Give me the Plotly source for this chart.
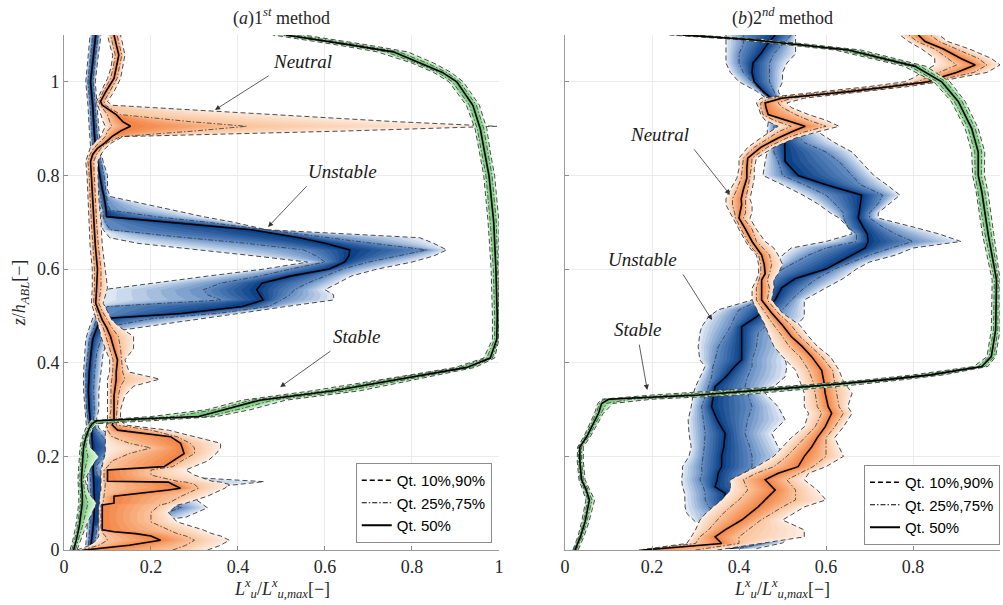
import numpy as np
import plotly.graph_objects as go

# ------------------------------------------------------------------ data
X_TICKS = [0, 0.2, 0.4, 0.6, 0.8, 1.0]
X_TICK_TEXT = ["0", "0.2", "0.4", "0.6", "0.8", "1"]
Y_TICKS = [0, 0.2, 0.4, 0.6, 0.8, 1.0]
Y_TICK_TEXT = ["0", "0.2", "0.4", "0.6", "0.8", "1"]
LEGEND_NAMES = ["Qt. 10%,90%", "Qt. 25%,75%", "Qt. 50%"]
PANEL_TITLES = ["(<i>a</i>)1<sup><i>st</i></sup> method", "(<i>b</i>)2<sup><i>nd</i></sup> method"]

# ---- 1st method : stable
L_ST_Z = [0.0, 0.02, 0.05, 0.08, 0.10, 0.12, 0.15, 0.18, 0.20, 0.22, 0.24, 0.26, 0.27, 0.276, 0.285, 0.30, 0.32, 0.34, 0.37, 0.39, 0.41, 0.45, 0.50, 0.60, 0.70, 0.80, 0.85, 0.90, 0.95, 1.00, 1.02, 1.04, 1.064, 1.08, 1.10]
L_ST_Q10 = [0.014, 0.020, 0.027, 0.032, 0.034, 0.034, 0.032, 0.034, 0.035, 0.037, 0.042, 0.050, 0.057, 0.060, 0.20, 0.33, 0.41, 0.57, 0.77, 0.90, 0.965, 0.985, 0.985, 0.982, 0.975, 0.965, 0.955, 0.945, 0.925, 0.885, 0.85, 0.80, 0.72, 0.62, 0.48]
L_ST_Q25 = [0.018, 0.024, 0.031, 0.036, 0.038, 0.038, 0.036, 0.038, 0.039, 0.041, 0.046, 0.054, 0.061, 0.065, 0.25, 0.35, 0.43, 0.60, 0.78, 0.91, 0.972, 0.99, 0.99, 0.987, 0.98, 0.97, 0.96, 0.95, 0.932, 0.893, 0.86, 0.81, 0.74, 0.64, 0.50]
L_ST_Q50 = [0.022, 0.028, 0.035, 0.040, 0.042, 0.042, 0.040, 0.042, 0.043, 0.045, 0.050, 0.058, 0.065, 0.075, 0.31, 0.37, 0.45, 0.62, 0.80, 0.926, 0.98, 0.995, 0.996, 0.993, 0.988, 0.977, 0.967, 0.957, 0.94, 0.903, 0.87, 0.82, 0.757, 0.65, 0.51]
L_ST_Q75 = [0.026, 0.033, 0.042, 0.050, 0.055, 0.048, 0.044, 0.050, 0.055, 0.050, 0.054, 0.062, 0.070, 0.15, 0.33, 0.40, 0.48, 0.65, 0.82, 0.935, 0.985, 0.998, 1.0, 0.997, 0.994, 0.984, 0.975, 0.965, 0.948, 0.91, 0.88, 0.835, 0.77, 0.67, 0.53]
L_ST_Q90 = [0.030, 0.038, 0.050, 0.065, 0.075, 0.058, 0.048, 0.065, 0.080, 0.060, 0.058, 0.066, 0.078, 0.20, 0.35, 0.43, 0.51, 0.68, 0.84, 0.945, 0.99, 1.0, 1.0, 1.0, 1.0, 0.99, 0.98, 0.972, 0.955, 0.918, 0.89, 0.85, 0.79, 0.69, 0.55]

# ---- 1st method : neutral
L_NE_Z = [0.0, 0.01, 0.021, 0.03, 0.035, 0.039, 0.043, 0.06, 0.08, 0.096, 0.10, 0.115, 0.128, 0.132, 0.14, 0.145, 0.147, 0.16, 0.171, 0.178, 0.19, 0.206, 0.218, 0.228, 0.242, 0.256, 0.267, 0.28, 0.30, 0.33, 0.35, 0.365, 0.38, 0.406, 0.43, 0.456, 0.475, 0.491, 0.51, 0.527, 0.56, 0.60, 0.65, 0.70, 0.75, 0.80, 0.83, 0.845, 0.858, 0.87, 0.883, 0.895, 0.905, 0.915, 0.93, 0.95, 0.958, 0.979, 1.007, 1.03, 1.057, 1.08, 1.10]
L_NE_Q10 = [0.03, 0.06, 0.075, 0.08, 0.08, 0.08, 0.08, 0.08, 0.08, 0.08, 0.082, 0.082, 0.085, 0.085, 0.085, 0.085, 0.085, 0.085, 0.085, 0.088, 0.09, 0.095, 0.095, 0.095, 0.095, 0.095, 0.098, 0.10, 0.10, 0.10, 0.10, 0.10, 0.105, 0.105, 0.095, 0.085, 0.08, 0.075, 0.07, 0.063, 0.065, 0.065, 0.06, 0.058, 0.055, 0.053, 0.05, 0.055, 0.06, 0.07, 0.085, 0.09, 0.095, 0.09, 0.085, 0.078, 0.075, 0.085, 0.10, 0.108, 0.112, 0.105, 0.10]
L_NE_Q25 = [0.04, 0.08, 0.10, 0.095, 0.09, 0.09, 0.085, 0.085, 0.085, 0.085, 0.09, 0.092, 0.095, 0.095, 0.095, 0.095, 0.092, 0.092, 0.092, 0.10, 0.11, 0.15, 0.20, 0.15, 0.11, 0.10, 0.10, 0.105, 0.108, 0.108, 0.108, 0.11, 0.112, 0.113, 0.105, 0.095, 0.09, 0.08, 0.075, 0.068, 0.07, 0.07, 0.066, 0.063, 0.06, 0.058, 0.055, 0.06, 0.068, 0.08, 0.095, 0.10, 0.11, 0.105, 0.10, 0.083, 0.08, 0.09, 0.107, 0.113, 0.118, 0.112, 0.107]
L_NE_Q50 = [0.046, 0.15, 0.222, 0.20, 0.165, 0.115, 0.088, 0.088, 0.088, 0.088, 0.115, 0.115, 0.24, 0.268, 0.25, 0.24, 0.10, 0.10, 0.10, 0.23, 0.25, 0.276, 0.272, 0.268, 0.245, 0.123, 0.111, 0.115, 0.115, 0.115, 0.118, 0.12, 0.12, 0.123, 0.115, 0.107, 0.098, 0.088, 0.08, 0.073, 0.075, 0.077, 0.072, 0.069, 0.066, 0.064, 0.061, 0.066, 0.077, 0.095, 0.11, 0.13, 0.153, 0.135, 0.12, 0.088, 0.084, 0.096, 0.115, 0.12, 0.126, 0.12, 0.115]
L_NE_Q75 = [0.25, 0.28, 0.30, 0.28, 0.26, 0.25, 0.24, 0.20, 0.20, 0.22, 0.24, 0.27, 0.30, 0.31, 0.30, 0.28, 0.26, 0.20, 0.20, 0.25, 0.27, 0.30, 0.30, 0.29, 0.26, 0.20, 0.12, 0.12, 0.122, 0.125, 0.13, 0.14, 0.135, 0.132, 0.13, 0.125, 0.11, 0.10, 0.088, 0.08, 0.085, 0.085, 0.079, 0.075, 0.072, 0.07, 0.068, 0.075, 0.085, 0.10, 0.13, 0.30, 0.42, 0.29, 0.13, 0.095, 0.092, 0.105, 0.122, 0.127, 0.133, 0.127, 0.122]
L_NE_Q90 = [0.33, 0.36, 0.38, 0.36, 0.34, 0.33, 0.32, 0.26, 0.24, 0.26, 0.28, 0.33, 0.36, 0.37, 0.38, 0.36, 0.34, 0.30, 0.28, 0.30, 0.33, 0.35, 0.36, 0.36, 0.30, 0.24, 0.14, 0.13, 0.13, 0.14, 0.16, 0.22, 0.15, 0.14, 0.16, 0.16, 0.13, 0.11, 0.10, 0.09, 0.10, 0.095, 0.088, 0.085, 0.08, 0.078, 0.078, 0.085, 0.095, 0.11, 0.136, 0.65, 0.995, 0.76, 0.48, 0.11, 0.10, 0.115, 0.13, 0.135, 0.14, 0.135, 0.13]

# ---- 1st method : unstable
L_UN_Z = [0.01, 0.03, 0.05, 0.07, 0.09, 0.11, 0.13, 0.146, 0.16, 0.18, 0.20, 0.22, 0.24, 0.26, 0.28, 0.30, 0.34, 0.38, 0.42, 0.45, 0.466, 0.48, 0.494, 0.505, 0.52, 0.534, 0.545, 0.556, 0.57, 0.585, 0.60, 0.615, 0.628, 0.641, 0.655, 0.667, 0.684, 0.70, 0.712, 0.726, 0.74, 0.755, 0.77, 0.80, 0.83, 0.85, 0.90, 0.95, 1.0, 1.05, 1.1]
L_UN_Q10 = [0.05, 0.052, 0.054, 0.055, 0.055, 0.055, 0.054, 0.054, 0.054, 0.053, 0.053, 0.053, 0.053, 0.052, 0.05, 0.048, 0.045, 0.045, 0.048, 0.05, 0.055, 0.06, 0.065, 0.07, 0.075, 0.08, 0.085, 0.09, 0.20, 0.33, 0.46, 0.56, 0.44, 0.31, 0.17, 0.105, 0.09, 0.085, 0.085, 0.085, 0.08, 0.08, 0.075, 0.07, 0.065, 0.062, 0.058, 0.055, 0.05, 0.055, 0.06]
L_UN_Q25 = [0.056, 0.058, 0.06, 0.061, 0.062, 0.062, 0.061, 0.061, 0.06, 0.06, 0.06, 0.06, 0.059, 0.058, 0.055, 0.052, 0.05, 0.05, 0.055, 0.058, 0.065, 0.07, 0.075, 0.085, 0.10, 0.36, 0.33, 0.32, 0.36, 0.45, 0.52, 0.60, 0.58, 0.55, 0.42, 0.28, 0.106, 0.095, 0.09, 0.09, 0.085, 0.085, 0.08, 0.077, 0.07, 0.067, 0.063, 0.06, 0.055, 0.06, 0.066]
L_UN_Q50 = [0.062, 0.065, 0.067, 0.069, 0.07, 0.07, 0.069, 0.068, 0.067, 0.066, 0.066, 0.066, 0.065, 0.063, 0.06, 0.058, 0.056, 0.058, 0.062, 0.066, 0.072, 0.078, 0.085, 0.27, 0.41, 0.458, 0.45, 0.443, 0.455, 0.52, 0.61, 0.645, 0.655, 0.657, 0.60, 0.54, 0.43, 0.25, 0.098, 0.097, 0.095, 0.092, 0.088, 0.082, 0.077, 0.073, 0.069, 0.066, 0.061, 0.067, 0.073]
L_UN_Q75 = [0.07, 0.073, 0.076, 0.20, 0.27, 0.22, 0.12, 0.15, 0.076, 0.075, 0.09, 0.12, 0.09, 0.072, 0.068, 0.07, 0.068, 0.07, 0.075, 0.085, 0.10, 0.12, 0.20, 0.35, 0.47, 0.50, 0.52, 0.53, 0.56, 0.60, 0.64, 0.70, 0.77, 0.834, 0.71, 0.61, 0.47, 0.33, 0.21, 0.106, 0.10, 0.098, 0.095, 0.092, 0.085, 0.08, 0.075, 0.072, 0.067, 0.072, 0.079]
L_UN_Q90 = [0.078, 0.082, 0.085, 0.28, 0.33, 0.30, 0.30, 0.46, 0.20, 0.085, 0.13, 0.15, 0.12, 0.08, 0.075, 0.08, 0.08, 0.085, 0.09, 0.10, 0.106, 0.21, 0.32, 0.40, 0.51, 0.62, 0.62, 0.60, 0.63, 0.66, 0.72, 0.80, 0.85, 0.88, 0.85, 0.818, 0.466, 0.39, 0.32, 0.25, 0.18, 0.106, 0.10, 0.10, 0.09, 0.085, 0.08, 0.076, 0.072, 0.078, 0.085]

# ---- 2nd method : stable
R_ST_Z = [0.0, 0.03, 0.06, 0.08, 0.107, 0.13, 0.15, 0.19, 0.22, 0.242, 0.27, 0.292, 0.313, 0.322, 0.331, 0.342, 0.353, 0.364, 0.374, 0.392, 0.413, 0.47, 0.577, 0.673, 0.766, 0.80, 0.85, 0.90, 0.958, 1.0, 1.033, 1.068, 1.09, 1.10]
R_ST_Q10 = [0.018, 0.03, 0.038, 0.042, 0.048, 0.04, 0.032, 0.028, 0.029, 0.043, 0.058, 0.068, 0.075, 0.085, 0.2, 0.38, 0.56, 0.70, 0.80, 0.94, 0.97, 0.98, 0.982, 0.96, 0.945, 0.937, 0.935, 0.92, 0.888, 0.848, 0.78, 0.62, 0.40, 0.24]
R_ST_Q25 = [0.02, 0.033, 0.042, 0.046, 0.052, 0.044, 0.035, 0.031, 0.031, 0.046, 0.061, 0.072, 0.079, 0.09, 0.25, 0.42, 0.58, 0.72, 0.82, 0.95, 0.975, 0.985, 0.987, 0.966, 0.95, 0.943, 0.942, 0.927, 0.895, 0.856, 0.793, 0.635, 0.415, 0.255]
R_ST_Q50 = [0.023, 0.036, 0.046, 0.05, 0.056, 0.048, 0.038, 0.034, 0.034, 0.05, 0.065, 0.077, 0.084, 0.10, 0.307, 0.46, 0.61, 0.74, 0.84, 0.958, 0.98, 0.99, 0.992, 0.973, 0.958, 0.95, 0.95, 0.935, 0.904, 0.866, 0.805, 0.651, 0.43, 0.27]
R_ST_Q75 = [0.026, 0.04, 0.05, 0.055, 0.062, 0.052, 0.042, 0.038, 0.038, 0.054, 0.07, 0.083, 0.095, 0.15, 0.35, 0.50, 0.64, 0.76, 0.855, 0.965, 0.986, 0.995, 0.996, 0.98, 0.965, 0.957, 0.958, 0.943, 0.913, 0.876, 0.817, 0.665, 0.445, 0.285]
R_ST_Q90 = [0.03, 0.044, 0.055, 0.06, 0.068, 0.056, 0.046, 0.042, 0.042, 0.058, 0.074, 0.088, 0.11, 0.20, 0.40, 0.54, 0.67, 0.78, 0.87, 0.972, 0.99, 1.0, 1.0, 0.986, 0.972, 0.964, 0.965, 0.95, 0.92, 0.885, 0.83, 0.68, 0.46, 0.30]

# ---- 2nd method : neutral
R_NE_Z = [0.0, 0.014, 0.028, 0.043, 0.064, 0.075, 0.092, 0.107, 0.128, 0.15, 0.164, 0.178, 0.20, 0.22, 0.24, 0.263, 0.292, 0.306, 0.335, 0.36, 0.384, 0.413, 0.435, 0.456, 0.48, 0.506, 0.534, 0.559, 0.577, 0.59, 0.61, 0.63, 0.645, 0.659, 0.685, 0.709, 0.72, 0.737, 0.75, 0.77, 0.794, 0.815, 0.837, 0.86, 0.88, 0.893, 0.905, 0.918, 0.93, 0.945, 0.955, 0.965, 0.98, 0.99, 1.0, 1.008, 1.02, 1.036, 1.05, 1.07, 1.086, 1.1]
R_NE_Q10 = [0.17, 0.28, 0.29, 0.30, 0.31, 0.32, 0.34, 0.36, 0.38, 0.38, 0.41, 0.44, 0.48, 0.50, 0.52, 0.55, 0.56, 0.55, 0.55, 0.54, 0.53, 0.50, 0.48, 0.47, 0.46, 0.445, 0.43, 0.43, 0.44, 0.445, 0.445, 0.44, 0.425, 0.415, 0.40, 0.385, 0.38, 0.37, 0.37, 0.38, 0.395, 0.40, 0.40, 0.42, 0.45, 0.47, 0.49, 0.46, 0.45, 0.445, 0.44, 0.45, 0.60, 0.70, 0.78, 0.80, 0.82, 0.85, 0.85, 0.82, 0.79, 0.77]
R_NE_Q25 = [0.175, 0.30, 0.31, 0.33, 0.35, 0.36, 0.38, 0.40, 0.42, 0.41, 0.44, 0.48, 0.51, 0.53, 0.55, 0.575, 0.59, 0.58, 0.575, 0.57, 0.56, 0.54, 0.515, 0.50, 0.48, 0.46, 0.44, 0.44, 0.445, 0.45, 0.45, 0.445, 0.43, 0.42, 0.405, 0.392, 0.39, 0.385, 0.385, 0.395, 0.405, 0.408, 0.41, 0.435, 0.47, 0.49, 0.52, 0.48, 0.455, 0.45, 0.45, 0.47, 0.63, 0.73, 0.81, 0.83, 0.86, 0.90, 0.88, 0.85, 0.81, 0.79]
R_NE_Q50 = [0.18, 0.36, 0.345, 0.368, 0.406, 0.42, 0.444, 0.46, 0.483, 0.46, 0.49, 0.536, 0.55, 0.567, 0.58, 0.598, 0.613, 0.605, 0.598, 0.595, 0.59, 0.567, 0.545, 0.52, 0.50, 0.475, 0.452, 0.452, 0.452, 0.46, 0.458, 0.452, 0.44, 0.43, 0.415, 0.40, 0.402, 0.406, 0.405, 0.41, 0.418, 0.418, 0.42, 0.45, 0.49, 0.52, 0.552, 0.51, 0.467, 0.462, 0.46, 0.498, 0.66, 0.75, 0.835, 0.858, 0.90, 0.943, 0.91, 0.87, 0.828, 0.812]
R_NE_Q75 = [0.30, 0.40, 0.40, 0.42, 0.45, 0.47, 0.50, 0.53, 0.53, 0.51, 0.54, 0.57, 0.60, 0.60, 0.60, 0.62, 0.64, 0.63, 0.625, 0.62, 0.615, 0.59, 0.565, 0.54, 0.52, 0.49, 0.465, 0.47, 0.465, 0.47, 0.475, 0.47, 0.455, 0.44, 0.43, 0.41, 0.415, 0.415, 0.415, 0.42, 0.425, 0.428, 0.43, 0.465, 0.51, 0.55, 0.60, 0.56, 0.53, 0.50, 0.49, 0.52, 0.68, 0.77, 0.85, 0.88, 0.94, 0.97, 0.95, 0.90, 0.86, 0.84]
R_NE_Q90 = [0.35, 0.45, 0.55, 0.55, 0.50, 0.52, 0.55, 0.60, 0.58, 0.55, 0.56, 0.60, 0.64, 0.63, 0.62, 0.64, 0.66, 0.65, 0.66, 0.64, 0.63, 0.61, 0.58, 0.56, 0.54, 0.50, 0.475, 0.48, 0.48, 0.49, 0.50, 0.49, 0.48, 0.46, 0.44, 0.425, 0.43, 0.43, 0.425, 0.43, 0.435, 0.435, 0.44, 0.48, 0.53, 0.58, 0.63, 0.60, 0.56, 0.52, 0.51, 0.55, 0.70, 0.79, 0.86, 0.90, 0.97, 1.0, 0.98, 0.93, 0.88, 0.86]

# ---- 2nd method : unstable
R_UN_Z = [0.003, 0.015, 0.03, 0.045, 0.06, 0.078, 0.092, 0.107, 0.121, 0.135, 0.15, 0.164, 0.178, 0.20, 0.22, 0.249, 0.278, 0.306, 0.335, 0.349, 0.37, 0.392, 0.406, 0.434, 0.463, 0.477, 0.498, 0.513, 0.534, 0.56, 0.58, 0.60, 0.615, 0.63, 0.645, 0.659, 0.675, 0.69, 0.709, 0.72, 0.74, 0.758, 0.78, 0.80, 0.83, 0.85, 0.87, 0.90, 0.93, 0.94, 0.95, 0.96, 0.98, 1.0, 1.02, 1.04, 1.06, 1.08, 1.1]
R_UN_Q10 = [0.36, 0.38, 0.38, 0.36, 0.30, 0.28, 0.276, 0.276, 0.275, 0.27, 0.268, 0.27, 0.27, 0.285, 0.29, 0.285, 0.283, 0.29, 0.295, 0.30, 0.31, 0.322, 0.31, 0.306, 0.31, 0.314, 0.33, 0.352, 0.43, 0.45, 0.46, 0.47, 0.49, 0.50, 0.52, 0.60, 0.66, 0.65, 0.63, 0.61, 0.58, 0.547, 0.50, 0.455, 0.46, 0.465, 0.465, 0.465, 0.47, 0.47, 0.47, 0.47, 0.44, 0.40, 0.38, 0.37, 0.37, 0.37, 0.37]
R_UN_Q25 = [0.37, 0.40, 0.40, 0.38, 0.33, 0.35, 0.33, 0.322, 0.322, 0.318, 0.31, 0.315, 0.314, 0.318, 0.32, 0.322, 0.318, 0.314, 0.325, 0.33, 0.337, 0.34, 0.345, 0.352, 0.37, 0.38, 0.39, 0.40, 0.45, 0.46, 0.47, 0.50, 0.53, 0.56, 0.60, 0.67, 0.67, 0.65, 0.64, 0.64, 0.62, 0.60, 0.55, 0.50, 0.49, 0.48, 0.48, 0.48, 0.48, 0.475, 0.475, 0.475, 0.45, 0.43, 0.41, 0.40, 0.40, 0.41, 0.41]
R_UN_Q50 = [0.38, 0.42, 0.43, 0.41, 0.37, 0.37, 0.368, 0.368, 0.368, 0.345, 0.35, 0.352, 0.36, 0.36, 0.365, 0.368, 0.35, 0.337, 0.342, 0.345, 0.37, 0.39, 0.406, 0.406, 0.406, 0.406, 0.44, 0.46, 0.483, 0.498, 0.53, 0.60, 0.63, 0.66, 0.69, 0.697, 0.695, 0.685, 0.674, 0.676, 0.68, 0.682, 0.60, 0.536, 0.506, 0.506, 0.505, 0.50, 0.49, 0.487, 0.485, 0.48, 0.455, 0.435, 0.43, 0.432, 0.45, 0.465, 0.483]
R_UN_Q75 = [0.40, 0.46, 0.46, 0.44, 0.38, 0.38, 0.42, 0.43, 0.43, 0.42, 0.406, 0.41, 0.43, 0.43, 0.425, 0.414, 0.42, 0.43, 0.42, 0.414, 0.42, 0.43, 0.43, 0.44, 0.444, 0.46, 0.49, 0.50, 0.52, 0.55, 0.58, 0.62, 0.66, 0.70, 0.75, 0.80, 0.76, 0.73, 0.70, 0.70, 0.72, 0.73, 0.68, 0.66, 0.63, 0.60, 0.55, 0.52, 0.50, 0.49, 0.49, 0.49, 0.48, 0.47, 0.47, 0.47, 0.48, 0.50, 0.52]
R_UN_Q90 = [0.44, 0.50, 0.52, 0.48, 0.39, 0.395, 0.40, 0.43, 0.444, 0.444, 0.44, 0.43, 0.47, 0.506, 0.49, 0.475, 0.506, 0.49, 0.46, 0.48, 0.506, 0.51, 0.506, 0.52, 0.53, 0.53, 0.55, 0.55, 0.55, 0.60, 0.64, 0.67, 0.70, 0.76, 0.80, 0.91, 0.86, 0.80, 0.72, 0.72, 0.745, 0.77, 0.74, 0.71, 0.68, 0.66, 0.62, 0.57, 0.52, 0.51, 0.50, 0.50, 0.49, 0.50, 0.50, 0.51, 0.53, 0.53, 0.53]

# ------------------------------------------------------------------ style
SERIF = "Liberation Serif"
SANS = "Liberation Sans"
PAL_NEUTRAL = [(253, 238, 228), (250, 196, 156), (243, 130, 66)]
PAL_UNSTABLE = [(230, 237, 246), (100, 142, 196), (6, 60, 132)]
PAL_STABLE = [(225, 245, 225), (160, 222, 160), (90, 182, 100)]
DASH = "5px,3px"
DASHDOT = "5px,2px,1.5px,2px"
N_LEVELS = 14


def rgb(c):
    return "rgb(%d,%d,%d)" % tuple(int(round(v)) for v in c)


def shade(pal, t):
    a, b, c = pal
    if t <= 0.5:
        s = t / 0.5
        return [a[i] + (b[i] - a[i]) * s for i in range(3)]
    s = (t - 0.5) / 0.5
    return [b[i] + (c[i] - b[i]) * s for i in range(3)]


def edge(o, m, c, t):
    if t <= 0.5:
        return o + (m - o) * (t / 0.5)
    return m + (c - m) * ((t - 0.5) / 0.5)


def add_profile(fig, z, q10, q25, q50, q75, q90, pal, xa, ya):
    arrs = [np.asarray(a, float) for a in (z, q10, q25, q50, q75, q90)]
    n = len(arrs[0])
    assert all(len(a) == n for a in arrs), [len(a) for a in arrs]
    z, q10, q25, q50, q75, q90 = arrs
    levels = [i / N_LEVELS for i in range(N_LEVELS)]
    for t in levels:
        lo = edge(q10, q25, q50, t)
        hi = edge(q90, q75, q50, t)
        col = rgb(shade(pal, t + 0.5 / N_LEVELS))
        fig.add_trace(go.Scatter(
            x=np.concatenate([lo, hi[::-1]]), y=np.concatenate([z, z[::-1]]),
            mode="lines", fill="toself", fillcolor=col, line=dict(width=0, color=col),
            hoverinfo="skip", showlegend=False, xaxis=xa, yaxis=ya))
    for q, dash, w, c in [(q10, DASH, 0.9, "#383838"), (q90, DASH, 0.9, "#383838"),
                          (q25, DASHDOT, 0.8, "#383838"), (q75, DASHDOT, 0.8, "#383838"),
                          (q50, "solid", 1.6, "#000000")]:
        fig.add_trace(go.Scatter(x=q, y=z, mode="lines",
                                 line=dict(color=c, width=w, dash=dash),
                                 hoverinfo="skip", showlegend=False, xaxis=xa, yaxis=ya))


fig = go.Figure()

# panel (a)
add_profile(fig, L_UN_Z, L_UN_Q10, L_UN_Q25, L_UN_Q50, L_UN_Q75, L_UN_Q90, PAL_UNSTABLE, "x", "y")
add_profile(fig, L_NE_Z, L_NE_Q10, L_NE_Q25, L_NE_Q50, L_NE_Q75, L_NE_Q90, PAL_NEUTRAL, "x", "y")
add_profile(fig, L_ST_Z, L_ST_Q10, L_ST_Q25, L_ST_Q50, L_ST_Q75, L_ST_Q90, PAL_STABLE, "x", "y")
# panel (b)
add_profile(fig, R_UN_Z, R_UN_Q10, R_UN_Q25, R_UN_Q50, R_UN_Q75, R_UN_Q90, PAL_UNSTABLE, "x2", "y2")
add_profile(fig, R_NE_Z, R_NE_Q10, R_NE_Q25, R_NE_Q50, R_NE_Q75, R_NE_Q90, PAL_NEUTRAL, "x2", "y2")
add_profile(fig, R_ST_Z, R_ST_Q10, R_ST_Q25, R_ST_Q50, R_ST_Q75, R_ST_Q90, PAL_STABLE, "x2", "y2")

# legends
for leg, xa, ya in [("legend", "x", "y"), ("legend2", "x2", "y2")]:
    for name, dash, w in zip(LEGEND_NAMES, [DASH, DASHDOT, "solid"], [1.3, 1.2, 2.0]):
        fig.add_trace(go.Scatter(x=[None], y=[None], mode="lines", name=name,
                                 line=dict(color="black", width=w, dash=dash),
                                 legend=leg, showlegend=True, xaxis=xa, yaxis=ya))

tickfont = dict(family=SERIF, size=18, color="#262626")
axis_common = dict(range=[0, 1], tickvals=X_TICKS, ticktext=X_TICK_TEXT, ticks="inside",
                   ticklen=4, tickcolor="#8a8a8a", showline=True, linecolor="#9a9a9a",
                   linewidth=1, showgrid=True, gridcolor="#ebebeb", zeroline=False,
                   tickfont=tickfont, automargin=False)
yaxis_common = dict(range=[0, 1.1], tickvals=Y_TICKS, ticktext=Y_TICK_TEXT, ticks="inside",
                    ticklen=4, tickcolor="#8a8a8a", showline=True, linecolor="#9a9a9a",
                    linewidth=1, showgrid=True, gridcolor="#ebebeb", zeroline=False,
                    tickfont=tickfont, automargin=False)

XTITLE = "<i>L</i><sup><i>x</i></sup><sub><i>u</i></sub>/<i>L</i><sup><i>x</i></sup><sub><i>u,max</i></sub>[−]"
title_font = dict(family=SERIF, size=18, color="#262626")

fig.update_layout(
    width=1003, height=605,
    margin=dict(l=64, r=3, t=35, b=55),
    paper_bgcolor="white", plot_bgcolor="white",
    xaxis=dict(axis_common, domain=[0, 0.4647], anchor="y"),
    xaxis2=dict(axis_common, domain=[0.5353, 1.0], anchor="y2"),
    yaxis=dict(yaxis_common, domain=[0, 1], anchor="x",
               title=dict(text="<i>z</i>/<i>h</i><sub><i>ABL</i></sub>[−]",
                          font=title_font, standoff=6)),
    yaxis2=dict(yaxis_common, domain=[0, 1], anchor="x2", showticklabels=False),
    legend=dict(x=0.457, y=0.0136, xanchor="right", yanchor="bottom", bgcolor="white",
                bordercolor="#8c8c8c", borderwidth=1, tracegroupgap=0,
                font=dict(family=SANS, size=15, color="black")),
    legend2=dict(x=1.0, y=0.0097, xanchor="right", yanchor="bottom", bgcolor="white",
                 bordercolor="#8c8c8c", borderwidth=1, tracegroupgap=0,
                 font=dict(family=SANS, size=15, color="black")),
    showlegend=True,
)

# panel titles and x-axis titles
for txt, xc in zip(PANEL_TITLES, [0.2324, 0.7676]):
    fig.add_annotation(text=txt, xref="paper", yref="paper", x=xc, y=1.035,
                       xanchor="center", yanchor="middle", showarrow=False,
                       font=title_font)
    fig.add_annotation(text=XTITLE, xref="paper", yref="paper", x=xc, y=-0.075,
                       xanchor="center", yanchor="middle", showarrow=False,
                       font=title_font)

# labelled arrows: (text, text_x, text_y, tail_x, tail_y, head_x, head_y, panel)
LABELS = [
    ("Neutral", 0.549, 1.043, 0.474, 1.015, 0.347, 0.94, "1"),
    ("Unstable", 0.641, 0.808, 0.561, 0.78, 0.469, 0.69, "1"),
    ("Stable", 0.674, 0.455, 0.616, 0.427, 0.497, 0.348, "1"),
    ("Neutral", 0.218, 0.887, 0.294, 0.859, 0.379, 0.759, "2"),
    ("Unstable", 0.179, 0.62, 0.269, 0.592, 0.338, 0.491, "2"),
    ("Stable", 0.168, 0.47, 0.17, 0.442, 0.189, 0.342, "2"),
]
for txt, tx, ty, ax_, ay_, hx, hy, k in LABELS:
    xr = "x" if k == "1" else "x2"
    yr = "y" if k == "1" else "y2"
    fig.add_annotation(text="<i>%s</i>" % txt, x=tx, y=ty, xref=xr, yref=yr,
                       showarrow=False, xanchor="center", yanchor="middle",
                       font=dict(family=SERIF, size=19, color="#1a1a1a"))
    fig.add_annotation(text="", x=hx, y=hy, ax=ax_, ay=ay_, xref=xr, yref=yr,
                       axref=xr, ayref=yr, showarrow=True, arrowhead=2, arrowsize=1.3,
                       arrowwidth=0.8, arrowcolor="#333333", standoff=0, startstandoff=0)

fig.write_html("out.html", config={"displayModeBar": False},
               post_script="document.body.style.margin='0px';document.body.style.overflow='hidden';")
